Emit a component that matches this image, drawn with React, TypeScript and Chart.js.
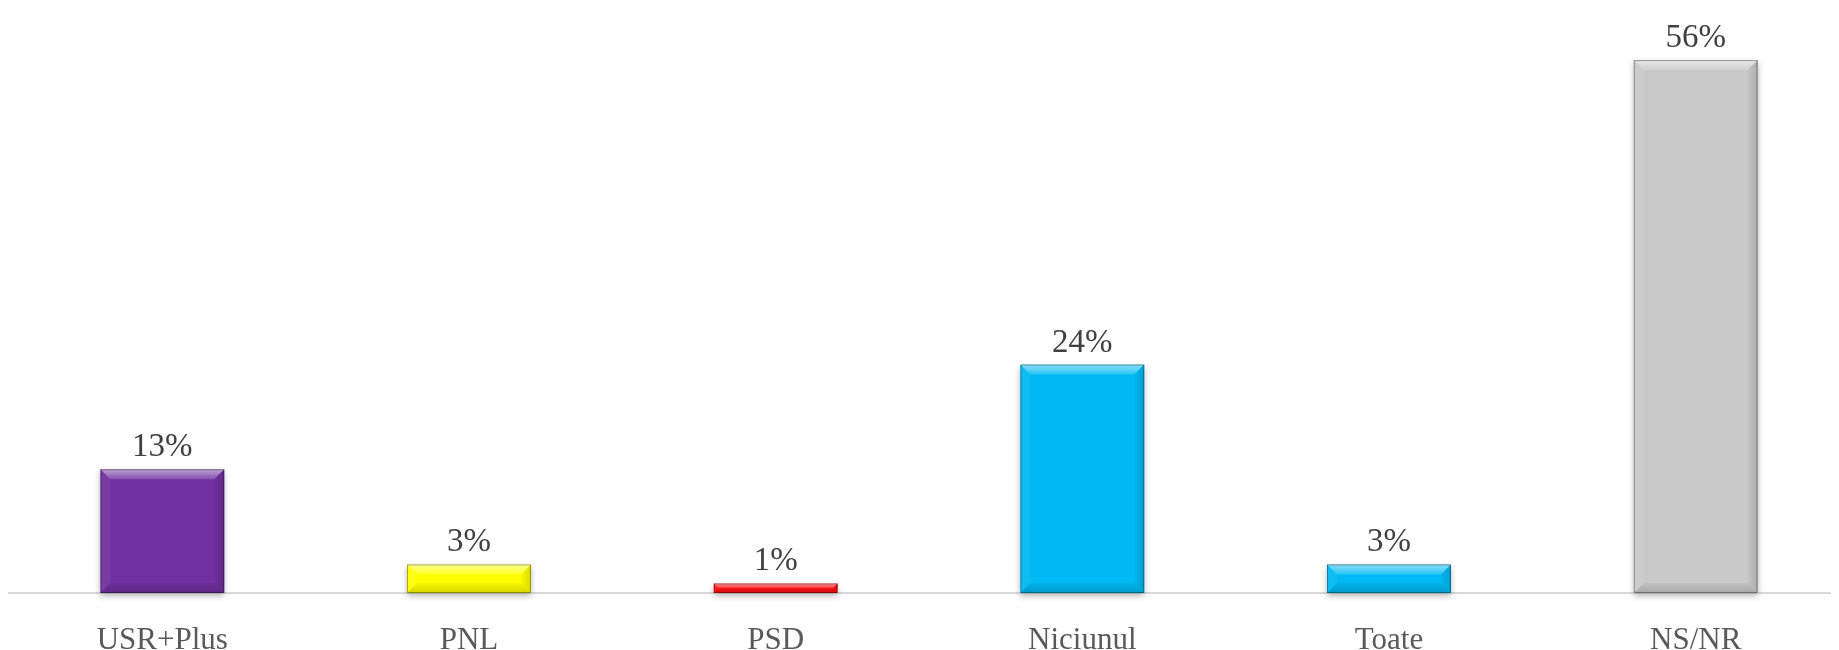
import React, { useEffect, useRef } from "react";
import { Chart, registerables } from "chart.js";

Chart.register(...registerables);

const categories = ["USR+Plus", "PNL", "PSD", "Niciunul", "Toate", "NS/NR"];
const values = [13, 3, 1, 24, 3, 56];
const barColors = ["#7030A0", "#FFFF00", "#FF1010", "#00B9F2", "#00B9F2", "#C9C9C9"];
const valueLabels = ["13%", "3%", "1%", "24%", "3%", "56%"];

const FONT = "'Liberation Serif', 'Times New Roman', serif";

const shadowPlugin = {
  id: "barShadow",
  beforeDatasetsDraw(chart: any) {
    const ctx = chart.ctx;
    const meta = chart.getDatasetMeta(0);
    ctx.save();
    meta.data.forEach((bar: any) => {
      const { x, y, base, width } = bar.getProps(["x", "y", "base", "width"], true);
      const l = x - width / 2;
      ctx.shadowColor = "rgba(0,0,0,0.28)";
      ctx.shadowBlur = 6;
      ctx.shadowOffsetY = 3;
      ctx.fillStyle = "rgba(255,255,255,1)";
      ctx.fillRect(l, y, width, base - y);
    });
    ctx.restore();
  },
};

const bevelPlugin = {
  id: "bevel",
  afterDatasetsDraw(chart: any) {
    const ctx = chart.ctx;
    const meta = chart.getDatasetMeta(0);
    ctx.save();
    meta.data.forEach((bar: any) => {
      const { x, y, base, width } = bar.getProps(["x", "y", "base", "width"], true);
      const l = x - width / 2;
      const r = x + width / 2;
      const t = y;
      const btm = base;
      const h = btm - t;
      const b = Math.min(10, h / 2);
      const poly = (pts: number[][], fill: any) => {
        ctx.beginPath();
        ctx.moveTo(pts[0][0], pts[0][1]);
        for (let i = 1; i < pts.length; i++) ctx.lineTo(pts[i][0], pts[i][1]);
        ctx.closePath();
        ctx.fillStyle = fill;
        ctx.fill();
      };
      const gTop = ctx.createLinearGradient(0, t, 0, t + b);
      gTop.addColorStop(0, "rgba(255,255,255,0.55)");
      gTop.addColorStop(1, "rgba(255,255,255,0.15)");
      poly([[l, t], [r, t], [r - b, t + b], [l + b, t + b]], gTop);
      poly([[l, t], [l + b, t + b], [l + b, btm - b], [l, btm]], "rgba(255,255,255,0.06)");
      const gRight = ctx.createLinearGradient(r - b, 0, r, 0);
      gRight.addColorStop(0, "rgba(0,0,0,0.02)");
      gRight.addColorStop(1, "rgba(0,0,0,0.14)");
      poly([[r, t], [r - b, t + b], [r - b, btm - b], [r, btm]], gRight);
      const gBot = ctx.createLinearGradient(0, btm - b, 0, btm);
      gBot.addColorStop(0, "rgba(0,0,0,0.04)");
      gBot.addColorStop(1, "rgba(0,0,0,0.16)");
      poly([[l, btm], [l + b, btm - b], [r - b, btm - b], [r, btm]], gBot);
      ctx.strokeStyle = "rgba(0,0,0,0.35)";
      ctx.lineWidth = 1;
      ctx.strokeRect(l + 0.5, t + 0.5, width - 1, h - 1);
    });
    ctx.restore();
  },
};

const labelPlugin = {
  id: "valueLabels",
  afterDatasetsDraw(chart: any) {
    const ctx = chart.ctx;
    const meta = chart.getDatasetMeta(0);
    ctx.save();
    ctx.font = `33px ${FONT}`;
    ctx.fillStyle = "#404040";
    ctx.textAlign = "center";
    ctx.textBaseline = "alphabetic";
    meta.data.forEach((bar: any, i: number) => {
      const { x, y } = bar.getProps(["x", "y"], true);
      ctx.fillText(valueLabels[i], x, y - 13);
    });
    ctx.restore();
  },
};

export default function App() {
  const ref = useRef<HTMLCanvasElement>(null);

  useEffect(() => {
    if (!ref.current) return;
    const chart = new Chart(ref.current, {
      type: "bar",
      data: {
        labels: categories,
        datasets: [
          {
            data: values,
            backgroundColor: barColors,
            borderWidth: 0,
            categoryPercentage: 1,
            barPercentage: 0.404,
          },
        ],
      },
      options: {
        animation: false,
        responsive: true,
        maintainAspectRatio: false,
        layout: { padding: { top: 14, left: 1, right: 0, bottom: 0 } },
        plugins: {
          legend: { display: false },
          tooltip: { enabled: false },
        },
        scales: {
          x: {
            grid: { display: false },
            border: { display: true, color: "#D9D9D9", width: 2 },
            ticks: {
              color: "#595959",
              font: { family: FONT, size: 31 },
              padding: 21,
              maxRotation: 0,
              autoSkip: false,
            },
            afterFit(scale: any) {
              scale.height = 57;
            },
          },
          y: {
            display: false,
            min: 0,
            max: 60,
          },
        },
      },
      plugins: [shadowPlugin, bevelPlugin, labelPlugin],
    });
    return () => chart.destroy();
  }, []);

  return (
    <div style={{ width: 1831, height: 642, overflow: "hidden" }}>
      <div style={{ width: 1841, height: 642, position: "relative" }}>
        <canvas ref={ref} />
      </div>
    </div>
  );
}
